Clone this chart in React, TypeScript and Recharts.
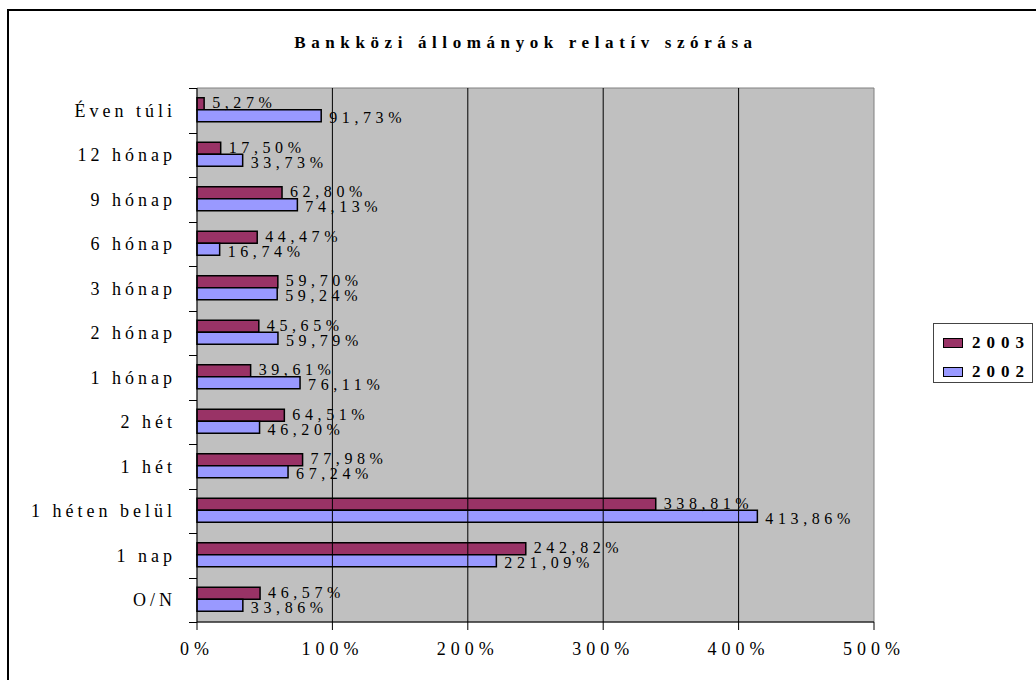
import React from 'react';
import { BarChart, Bar, XAxis, YAxis, ReferenceArea, ReferenceLine, LabelList, Legend } from 'recharts';

const categories = ['Éven túli', '12 hónap', '9 hónap', '6 hónap', '3 hónap', '2 hónap', '1 hónap', '2 hét', '1 hét', '1 héten belül', '1 nap', 'O/N'];
const values2003 = [5.27, 17.5, 62.8, 44.47, 59.7, 45.65, 39.61, 64.51, 77.98, 338.81, 242.82, 46.57];
const values2002 = [91.73, 33.73, 74.13, 16.74, 59.24, 59.79, 76.11, 46.2, 67.24, 413.86, 221.09, 33.86];
const xTicks = [0, 100, 200, 300, 400, 500];
const gridValues = [100, 200, 300, 400];
const seriesNames = ['2003', '2002'];
const title = 'Bankközi állományok relatív szórása';

const data = categories.map((c, i) => ({ cat: c, s2003: values2003[i], s2002: values2002[i] }));

const COLORS = { s2003: '#993366', s2002: '#9999FF' };
const FONT = "'Liberation Serif', Tinos, 'Times New Roman', 'DejaVu Serif', serif";

const CHART_W = 1036;
const CHART_H = 680;
const MARGIN = { top: 88, right: 162, bottom: 20, left: 7 };
const X_AXIS_H = 38;
const Y_AXIS_W = 190;
const TICK_SIZE = 8;
const PLOT_H = CHART_H - MARGIN.top - MARGIN.bottom - X_AXIS_H;
const PLOT_LEFT = MARGIN.left + Y_AXIS_W;

const fmt = (v: any) => `${Number(v).toFixed(2).replace('.', ',')}%`;

const makeLabel = (dy: number) => (props: any) => {
  const { x, y, width, height, value } = props;
  return (
    <text
      x={x + width + 8}
      y={y + height / 2 + dy}
      dy="0.36em"
      textAnchor="start"
      fontFamily={FONT}
      fontSize={16}
      letterSpacing={4.6}
      fill="#000"
    >
      {fmt(value)}
    </text>
  );
};

const LegendContent = () => (
  <div
    style={{
      position: 'relative',
      width: 100,
      height: 60,
      border: '1px solid #444',
      boxSizing: 'border-box',
      background: '#fff',
      fontFamily: FONT,
    }}
  >
    {seriesNames.map((n, i) => (
      <div key={n} style={{ position: 'absolute', left: 0, top: 9 + i * 29, height: 20, display: 'flex', alignItems: 'center' }}>
        <div
          style={{
            marginLeft: 9,
            width: 20,
            height: 10,
            boxSizing: 'border-box',
            border: '1.5px solid #000',
            background: i === 0 ? COLORS.s2003 : COLORS.s2002,
          }}
        />
        <span style={{ marginLeft: 9, fontWeight: 'bold', fontSize: 17, letterSpacing: 6, color: '#000' }}>{n}</span>
      </div>
    ))}
  </div>
);

// Category-boundary tick marks on the left axis (Excel style), derived from the plot layout.
const BoundaryTicks = () => {
  const n = categories.length;
  const step = PLOT_H / n;
  const lines = [];
  for (let k = 0; k <= n; k++) {
    const y = Math.round(MARGIN.top + k * step) + 0.5;
    lines.push(<line key={k} x1={PLOT_LEFT - TICK_SIZE} x2={PLOT_LEFT} y1={y} y2={y} stroke="#000" strokeWidth={1} />);
  }
  return (
    <svg
      width={CHART_W}
      height={CHART_H}
      style={{ position: 'absolute', left: 0, top: 0, pointerEvents: 'none' }}
    >
      {lines}
    </svg>
  );
};

export default function App() {
  return (
    <div style={{ position: 'fixed', left: 0, top: 0, width: CHART_W, height: CHART_H, overflow: 'hidden', background: '#fff', fontFamily: FONT }}>
      <div
        style={{
          position: 'absolute',
          left: 7,
          top: 9,
          width: 1100,
          height: 720,
          border: '2px solid #000',
          boxSizing: 'border-box',
        }}
      />
      <div
        style={{
          position: 'absolute',
          left: 0,
          width: 1052,
          top: 34,
          textAlign: 'center',
          fontFamily: FONT,
          fontWeight: 'bold',
          fontSize: 17,
          lineHeight: '17px',
          letterSpacing: 5.6,
          color: '#000',
          whiteSpace: 'nowrap',
        }}
      >
        {title}
      </div>
      <div style={{ position: 'absolute', left: 0, top: 0 }}>
        <BarChart
          width={CHART_W}
          height={CHART_H}
          data={data}
          layout="vertical"
          margin={MARGIN}
          barCategoryGap="22%"
          barGap={0}
        >
          <ReferenceArea x1={0} x2={500} fill="#C0C0C0" fillOpacity={1} stroke="#808080" strokeWidth={1} ifOverflow="visible" />
          {gridValues.map((g) => (
            <ReferenceLine key={g} x={g} stroke="#000" strokeWidth={1} />
          ))}
          <XAxis
            type="number"
            domain={[0, 500]}
            ticks={xTicks}
            height={X_AXIS_H}
            tickSize={8}
            tickMargin={12}
            tickFormatter={(v: any) => `${v}%`}
            axisLine={{ stroke: '#000' }}
            tickLine={{ stroke: '#000' }}
            tick={{ fontFamily: FONT, fontSize: 18, letterSpacing: 5, fill: '#000' }}
          />
          <YAxis
            type="category"
            dataKey="cat"
            width={Y_AXIS_W}
            tickSize={0}
            tickMargin={21}
            tickLine={false}
            axisLine={{ stroke: '#000' }}
            interval={0}
            tick={{ fontFamily: FONT, fontSize: 18, letterSpacing: 4, fill: '#000' }}
          />
          <Legend
            layout="horizontal"
            verticalAlign="middle"
            align="center"
            content={<LegendContent />}
            wrapperStyle={{ position: 'absolute', left: 933, top: 323, width: 100, height: 60 }}
          />
          <Bar dataKey="s2003" name="2003" fill={COLORS.s2003} stroke="#000" strokeWidth={1.5} isAnimationActive={false}>
            <LabelList dataKey="s2003" content={makeLabel(-1.5)} />
          </Bar>
          <Bar dataKey="s2002" name="2002" fill={COLORS.s2002} stroke="#000" strokeWidth={1.5} isAnimationActive={false}>
            <LabelList dataKey="s2002" content={makeLabel(1.5)} />
          </Bar>
        </BarChart>
      </div>
      <BoundaryTicks />
    </div>
  );
}
